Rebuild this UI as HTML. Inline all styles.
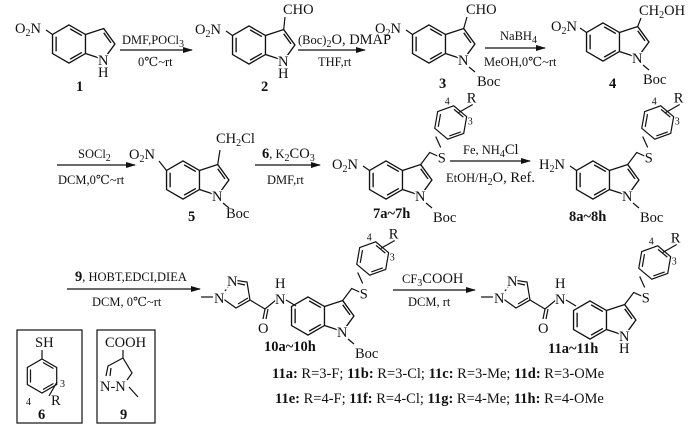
<!DOCTYPE html>
<html><head><meta charset="utf-8"><style>
html,body{margin:0;padding:0;background:#fff;}
svg{display:block;}
text,tspan{font-family:"Liberation Serif","DejaVu Serif",serif;font-size:14.5px;fill:#111;}
.w{stroke:#fff;stroke-width:3px;paint-order:stroke;}
.b{font-weight:bold;}
.s{font-size:10px;}
.r{font-size:12.5px;}
line,polyline,polygon,path{stroke:#111;stroke-width:1.2;fill:none;}
</style></head><body>
<svg width="700" height="439" viewBox="0 0 700 439" xmlns="http://www.w3.org/2000/svg" font-family="Liberation Serif, DejaVu Serif, serif">
<defs>
<marker id="ah" markerWidth="10" markerHeight="8" refX="9" refY="4" orient="auto" markerUnits="userSpaceOnUse">
<path d="M0,1 L10,4 L0,7 Z" style="fill:#111;stroke:none"/></marker>
<g id="ind0">
<polygon points="0,-17 14.7,-8.5 14.7,8.5 0,17 -14.7,8.5 -14.7,-8.5"/>
<polyline points="14.7,-8.5 31,-13.8 41,0 31,13.8 14.7,8.5"/>
<line x1="-11.5" y1="-6.5" x2="-11.5" y2="6.5"/>
<line x1="1" y1="-13.5" x2="11.5" y2="-7.5"/>
<line x1="1" y1="13.5" x2="11.5" y2="7.5"/>
<line x1="31" y1="-10" x2="37.5" y2="-1"/>
</g>
<g id="ind"><use href="#ind0" transform="scale(1.12)"/></g>
<g id="ph">
<polygon points="0,-17 14.7,-8.5 14.7,8.5 0,17 -14.7,8.5 -14.7,-8.5"/>
<line x1="-11.5" y1="-6.5" x2="-11.5" y2="6.5"/>
<line x1="1" y1="-13.5" x2="11.5" y2="-7.5"/>
<line x1="1" y1="13.5" x2="11.5" y2="7.5"/>
</g>
<g id="pyr">
<line x1="201" y1="297" x2="213" y2="297"/>
<polyline points="222,298 236,308 250,300 247,282 233,280"/>
<line x1="238" y1="304" x2="248" y2="298"/>
<line x1="236" y1="283" x2="245" y2="285"/>
<line x1="225" y1="291" x2="229" y2="286" style="stroke-dasharray:2,2"/>
<text x="227" y="286" class="w">N</text>
<text x="214" y="303" class="w">N</text>
<line x1="250" y1="300" x2="265" y2="309"/>
<line x1="265" y1="309" x2="263" y2="319"/><line x1="268" y1="309" x2="266" y2="319"/>
<text x="258" y="333">O</text>
<line x1="265" y1="309" x2="276" y2="300"/>
<text x="275" y="304" class="w">N</text>
<text x="275" y="288">H</text>
<line x1="286" y1="300" x2="296" y2="306"/>
</g>
<g id="sph">
<polyline points="0,0 9,-12 18,-8"/>
<text x="17" y="-2" class="w">S</text>
<line x1="20" y1="-17" x2="15" y2="-28"/>
<g transform="translate(30,-42) rotate(10)"><use href="#ph"/></g>
<line x1="38" y1="-52" x2="52" y2="-60"/>
<text x="24" y="-60" class="s">4</text>
<text x="46" y="-62">R</text>
<text x="47" y="-40" class="s">3</text>
</g>
</defs>

<!-- Row 1 -->
<g transform="translate(69,44)"><use href="#ind"/>
<line x1="-16.5" y1="-9.5" x2="-23" y2="-14"/>
<text x="-54" y="-11">O<tspan class="s" dy="3">2</tspan><tspan dy="-3">N</tspan></text>
<text x="29" y="21" class="w">N</text><text x="29" y="33">H</text></g>
<text x="76" y="91" class="b">1</text>
<line x1="120" y1="50" x2="192" y2="50" marker-end="url(#ah)"/>
<text x="122" y="44" class="r">DMF,POCl<tspan class="s" dy="3">3</tspan></text>
<text x="138" y="66" class="r">0℃~rt</text>

<g transform="translate(249,45)"><use href="#ind"/>
<line x1="-16.5" y1="-9.5" x2="-23" y2="-14"/>
<text x="-54" y="-11">O<tspan class="s" dy="3">2</tspan><tspan dy="-3">N</tspan></text>
<line x1="34.7" y1="-15.5" x2="36" y2="-28"/><text x="34" y="-31">CHO</text>
<text x="29" y="21" class="w">N</text><text x="29" y="33">H</text></g>
<text x="261" y="91" class="b">2</text>
<line x1="298" y1="50" x2="365" y2="50" marker-end="url(#ah)"/>
<text x="298" y="44" class="r">(Boc)<tspan class="s" dy="3">2</tspan><tspan dy="-3">O, DMAP</tspan></text>
<text x="318" y="66" class="r">THF,rt</text>

<g transform="translate(429,44)"><use href="#ind"/>
<line x1="-16.5" y1="-9.5" x2="-23" y2="-14"/>
<text x="-54" y="-11">O<tspan class="s" dy="3">2</tspan><tspan dy="-3">N</tspan></text>
<line x1="34.7" y1="-15.5" x2="38" y2="-27"/><text x="37" y="-30">CHO</text>
<text x="29" y="21" class="w">N</text>
<line x1="40" y1="23" x2="46" y2="28"/><text x="48" y="42">Boc</text></g>
<text x="439" y="88" class="b">3</text>
<line x1="485" y1="48" x2="545" y2="48" marker-end="url(#ah)"/>
<text x="500" y="40" class="r">NaBH<tspan class="s" dy="3">4</tspan></text>
<text x="484" y="66" class="r">MeOH,0℃~rt</text>

<g transform="translate(603,42)"><use href="#ind"/>
<line x1="-16.5" y1="-9.5" x2="-23" y2="-14"/>
<text x="-52" y="-11">O<tspan class="s" dy="3">2</tspan><tspan dy="-3">N</tspan></text>
<line x1="34.7" y1="-15.5" x2="38" y2="-24"/><text x="36" y="-27">CH<tspan class="s" dy="3">2</tspan><tspan dy="-3">OH</tspan></text>
<text x="29" y="21" class="w">N</text>
<line x1="40" y1="23" x2="46" y2="28"/><text x="40" y="42">Boc</text></g>
<text x="609" y="88" class="b">4</text>

<!-- Row 2 -->
<line x1="57" y1="165" x2="135" y2="165" marker-end="url(#ah)"/>
<text x="78" y="158" class="r">SOCl<tspan class="s" dy="3">2</tspan></text>
<text x="58" y="184" class="r">DCM,0℃~rt</text>

<g transform="translate(183,180)"><use href="#ind"/>
<line x1="-16.5" y1="-9.5" x2="-24" y2="-19"/>
<text x="-54" y="-21">O<tspan class="s" dy="3">2</tspan><tspan dy="-3">N</tspan></text>
<line x1="34.7" y1="-15.5" x2="37" y2="-30"/><text x="33" y="-37">CH<tspan class="s" dy="3">2</tspan><tspan dy="-3">Cl</tspan></text>
<text x="29" y="21" class="w">N</text>
<line x1="40" y1="23" x2="46" y2="28"/><text x="43" y="38">Boc</text></g>
<text x="188" y="221" class="b">5</text>
<line x1="255" y1="165" x2="320" y2="165" marker-end="url(#ah)"/>
<text x="262" y="158" class="r"><tspan class="b">6</tspan>, K<tspan class="s" dy="3">2</tspan><tspan dy="-3">CO</tspan><tspan class="s" dy="3">3</tspan></text>
<text x="267" y="184" class="r">DMF,rt</text>

<g transform="translate(386,180)"><use href="#ind"/>
<line x1="-16.5" y1="-9.5" x2="-23" y2="-14"/>
<text x="-54" y="-11">O<tspan class="s" dy="3">2</tspan><tspan dy="-3">N</tspan></text>
<g transform="translate(34.7,-15.5)"><use href="#sph"/></g>
<text x="29" y="21" class="w">N</text>
<line x1="40" y1="23" x2="46" y2="28"/><text x="47" y="42">Boc</text></g>
<text x="373" y="218" class="b">7a~7h</text>
<line x1="450" y1="161" x2="530" y2="161" marker-end="url(#ah)"/>
<text x="463" y="154" class="r">Fe, NH<tspan class="s" dy="3">4</tspan><tspan dy="-3">Cl</tspan></text>
<text x="446" y="182" class="r">EtOH/H<tspan class="s" dy="3">2</tspan><tspan dy="-3">O, Ref.</tspan></text>

<g transform="translate(593,180)"><use href="#ind"/>
<line x1="-16.5" y1="-9.5" x2="-23" y2="-14"/>
<text x="-54" y="-11">H<tspan class="s" dy="3">2</tspan><tspan dy="-3">N</tspan></text>
<g transform="translate(34.7,-15.5)"><use href="#sph"/></g>
<text x="29" y="21" class="w">N</text>
<line x1="40" y1="23" x2="46" y2="28"/><text x="47" y="42">Boc</text></g>
<text x="569" y="221" class="b">8a~8h</text>

<!-- Row 3 -->
<line x1="67" y1="289" x2="200" y2="289" marker-end="url(#ah)"/>
<text x="75" y="281" class="r"><tspan class="b">9</tspan>, HOBT,EDCI,DIEA</text>
<text x="92" y="306" class="r">DCM, 0℃~rt</text>

<use href="#pyr"/>
<g transform="translate(308,316)"><use href="#ind"/>
<g transform="translate(34.7,-15.5)"><use href="#sph"/></g>
<text x="29" y="21" class="w">N</text>
<line x1="40" y1="23" x2="46" y2="28"/><text x="47" y="42">Boc</text></g>
<text x="264" y="351" class="b">10a~10h</text>

<line x1="393" y1="290" x2="475" y2="290" marker-end="url(#ah)"/>
<text x="402" y="283" class="r">CF<tspan class="s" dy="3">3</tspan><tspan dy="-3">COOH</tspan></text>
<text x="408" y="306" class="r">DCM, rt</text>

<g transform="translate(280,0)"><use href="#pyr"/></g>
<g transform="translate(590,320)"><use href="#ind"/>
<g transform="translate(34.7,-15.5)"><use href="#sph"/></g>
<text x="29" y="21" class="w">N</text><text x="29" y="33">H</text></g>
<text x="548" y="353" class="b">11a~11h</text>

<text x="272" y="378">
<tspan class="b">11a:</tspan> R=3-F; <tspan class="b">11b:</tspan> R=3-Cl; <tspan class="b">11c:</tspan> R=3-Me; <tspan class="b">11d:</tspan> R=3-OMe</text>
<text x="275" y="403">
<tspan class="b">11e:</tspan> R=4-F; <tspan class="b">11f:</tspan> R=4-Cl; <tspan class="b">11g:</tspan> R=4-Me; <tspan class="b">11h:</tspan> R=4-OMe</text>

<!-- boxes -->
<rect x="17" y="330" width="65" height="93" style="fill:none;stroke:#111;stroke-width:1.2"/>
<text x="35" y="347">SH</text>
<line x1="42" y1="350" x2="42" y2="359"/>
<g transform="translate(42,376)"><use href="#ph"/></g>
<line x1="49" y1="396" x2="57" y2="382"/>
<text x="26" y="405" class="s">4</text><text x="60" y="387" class="s">3</text>
<text x="51" y="405">R</text>
<text x="38" y="419" class="b">6</text>

<rect x="97" y="330" width="58" height="93" style="fill:none;stroke:#111;stroke-width:1.2"/>
<text x="105" y="347">COOH</text>
<line x1="123" y1="350" x2="123" y2="358"/>
<polyline points="123,358 108,366 106,376"/>
<polyline points="123,358 132,373 127,380"/>
<line x1="111" y1="368" x2="110" y2="376"/>
<text x="100" y="391">N-N</text>
<line x1="129" y1="387" x2="138" y2="397"/>
<text x="120" y="419" class="b">9</text>
</svg>
</body></html>
